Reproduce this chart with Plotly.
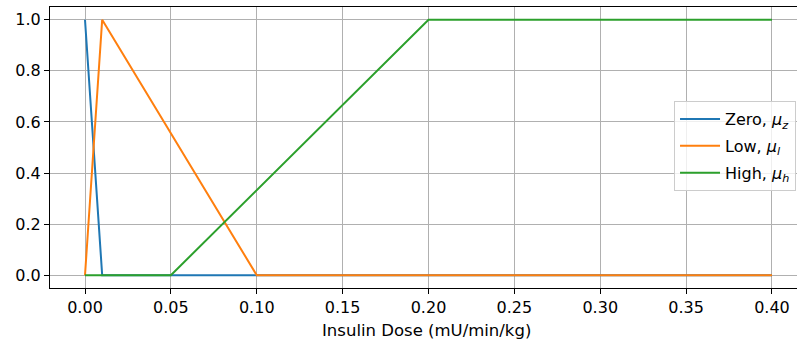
import plotly.graph_objects as go

zero_x = [0.0, 0.01, 0.4]
zero_y = [1.0, 0.0, 0.0]
low_x = [0.0, 0.01, 0.1, 0.4]
low_y = [0.0, 1.0, 0.0, 0.0]
high_x = [0.0, 0.05, 0.2, 0.4]
high_y = [0.0, 0.0, 1.0, 1.0]
names = ["Zero, <i>μ<sub>z</sub></i>", "Low, <i>μ<sub>l</sub></i>", "High, <i>μ<sub>h</sub></i>"]
colors = ["#1f77b4", "#ff7f0e", "#2ca02c"]
x_ticks = [0.0, 0.05, 0.1, 0.15, 0.2, 0.25, 0.3, 0.35, 0.4]
y_ticks = [0.0, 0.2, 0.4, 0.6, 0.8, 1.0]
x_title = "Insulin Dose (mU/min/kg)"

fig = go.Figure()
for i, (xs, ys) in enumerate([(zero_x, zero_y), (low_x, low_y), (high_x, high_y)]):
    fig.add_trace(go.Scatter(x=xs, y=ys, mode="lines", name=names[i],
                             legendgroup=str(i),
                             line=dict(color=colors[i], width=2)))

font = "DejaVu Sans"
fig.update_layout(
    width=797, height=343,
    margin=dict(l=50, r=0, t=7, b=55),
    plot_bgcolor="white", paper_bgcolor="white",
    font=dict(family=font, size=16, color="black"),
    showlegend=True,
    legend=dict(x=0.9987, y=0.665, xanchor="right", yanchor="top",
                bgcolor="rgba(255,255,255,0.8)", bordercolor="#cccccc", borderwidth=1,
                font=dict(family=font, size=16), tracegroupgap=3,
                itemwidth=40),
    xaxis=dict(range=[-0.02038, 0.41456], tickvals=x_ticks, tickformat=".2f",
               showgrid=True, gridcolor="#b0b0b0", gridwidth=1,
               showline=True, linecolor="black", linewidth=1, mirror=True,
               ticks="outside", ticklen=5, tickcolor="black", zeroline=False,
               tickfont=dict(family=font, size=16)),
    yaxis=dict(range=[-0.05, 1.05], tickvals=y_ticks, tickformat=".1f",
               showgrid=True, gridcolor="#b0b0b0", gridwidth=1,
               showline=True, linecolor="black", linewidth=1,
               ticks="outside", ticklen=5, tickcolor="black", zeroline=False,
               tickfont=dict(family=font, size=16)),
    annotations=[dict(text=x_title, xref="paper", yref="paper",
                      x=(426 - 50) / 747, y=-(330 - 288) / 281,
                      xanchor="center", yanchor="middle", showarrow=False,
                      font=dict(family=font, size=16.5))],
)
fig.write_html("out.html")
